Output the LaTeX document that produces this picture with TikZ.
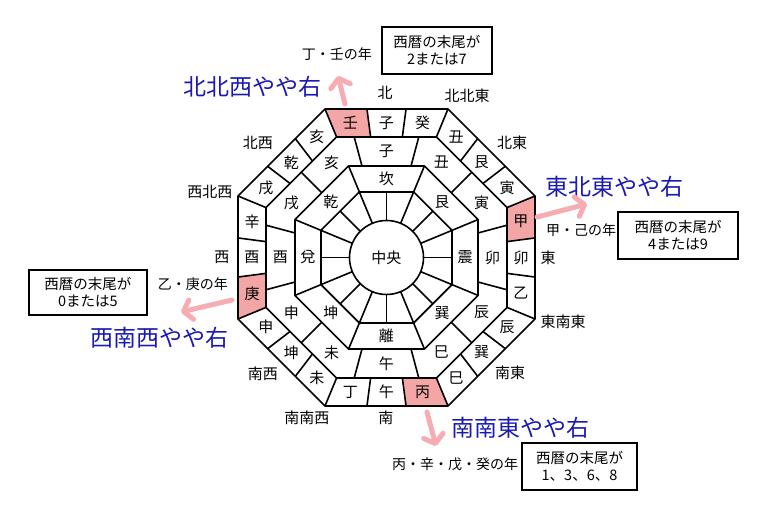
\documentclass[tikz,border=0pt]{standalone}
\usepackage{fontspec}
\setmainfont{Noto Sans CJK JP}
\usetikzlibrary{arrows.meta}
\definecolor{cellpink}{RGB}{244,166,166}
\definecolor{arrowpink}{RGB}{246,172,178}
\definecolor{dirblue}{RGB}{26,26,178}
\newcommand*{\celltext}{\fontsize{15}{17}\selectfont}
\newcommand*{\yeartext}{\fontsize{14}{16}\selectfont}
\newcommand*{\bluetext}{\fontsize{23}{25}\selectfont\color{dirblue}}
\tikzset{
  declare function={octr(\a,\t)=\a/cos(mod(\t+382.5,45)-22.5);},
  grid/.style = {line width=1.6pt, line join=round},
  cell/.style = {font=\celltext, inner sep=0pt},
  year/.style = {font=\yeartext, inner sep=0pt},
  hint/.style = {font=\bluetext, inner sep=0pt},
  yearbox/.style = {draw, line width=2.8pt, fill=white, align=center,
    font=\fontsize{14.5}{17}\selectfont, inner sep=0pt},
  pinkarrow/.style = {arrowpink, line width=5pt, line cap=round,
    -{Straight Barb[length=8pt,width=20pt,line cap=round,line join=round]}}
}
\newcommand{\octagon}[1]{%
% apothem
  \pgfmathsetmacro{\rv}{#1/cos(22.5)}
  \draw[grid] (22.5:\rv) -- (67.5:\rv) -- (112.5:\rv) -- (157.5:\rv)
    -- (202.5:\rv) -- (247.5:\rv) -- (292.5:\rv) -- (337.5:\rv) -- cycle;
}
\newcommand{\spokes}[4]{%
% inner apothem, outer apothem, first angle, second angle
  \foreach \t in {#3,#4,...,359}
    \draw[grid] (\t:{octr(#1,\t)}) -- (\t:{octr(#2,\t)});
}
\newcommand{\hcell}[2]{%
% start angle, end angle (outer ring)
  \fill[cellpink] (#1:{octr(148.5,#1)}) -- (#2:{octr(148.5,#2)})
    -- (#2:{octr(120.5,#2)}) -- (#1:{octr(120.5,#1)}) -- cycle;
}

\begin{document}
\begin{tikzpicture}[x=1pt, y=1pt]
  \useasboundingbox (-386.5,-252.5) rectangle (376.5,257.5);
  % highlighted cells
  \hcell{112.5}{97.5}
  \hcell{22.5}{7.5}
  \hcell{187.5}{202.5}
  \hcell{277.5}{292.5}
  % rings
  \octagon{148.5}
  \octagon{120.5}
  \octagon{91.5}
  \octagon{65.5}
  \spokes{120.5}{148.5}{7.5}{22.5}
  \spokes{91.5}{120.5}{15}{45}
  \spokes{65.5}{91.5}{22.5}{67.5}
  \foreach \t in {0,22.5,...,359}
    \draw[grid] (\t:37) -- (\t:{octr(65.5,\t)});
  \node[draw, circle, grid, minimum size=74pt, inner sep=0pt, font=\celltext]
    (centre) at (0,0) {中央};
  % labels
  \foreach \t/\lab [count=\i] in {105/壬, 90/子, 75/癸, 60/丑, 45/艮, 30/寅,
      15/甲, 0/卯, -15/乙, -30/辰, -45/巽, -60/巳, -75/丙, -90/午, -105/丁,
      -120/未, -135/坤, -150/申, -165/庚, 180/酉, 165/辛, 150/戌, 135/乾, 120/亥}
    \node[cell] (outer\i) at (\t:{octr(134.5,\t)}) {\lab};
  \foreach \t/\lab [count=\i] in {90/子, 60/丑, 30/寅, 0/卯, -30/辰, -60/巳,
      -90/午, -120/未, -150/申, 180/酉, 150/戌, 120/亥}
    \node[cell] (mid\i) at (\t:{octr(106,\t)}) {\lab};
  \foreach \t/\lab [count=\i] in {90/坎, 45/艮, 0/震, -45/巽, -90/離,
      -135/坤, 180/兌, 135/乾}
    \node[cell] (inner\i) at (\t:{octr(78.5,\t)}) {\lab};
  % compass points
  \foreach \p/\lab [count=\i] in {{(-1.5,164.5)}/北, {(80.5,161.5)}/北北東,
      {(125.5,114.5)}/北東, {(161.5,-0.5)}/東, {(176.5,-64.5)}/東南東,
      {(123.5,-115.5)}/南東, {(-0.5,-160.5)}/南, {(-79.5,-160.5)}/南南西,
      {(-123.5,-116.5)}/南西, {(-164.5,0.5)}/西, {(-176.5,65.5)}/西北西,
      {(-128.5,114.5)}/北西}
    \node[cell] (dir\i) at \p {\lab};
  % directions to face
  \node[hint] (hintN) at (-133.5,170.5) {北北西やや右};
  \node[hint] (hintE) at (227.5,70.5) {東北東やや右};
  \node[hint] (hintW) at (-226.5,-80.5) {西南西やや右};
  \node[hint] (hintS) at (133.5,-170.5) {南南東やや右};
  \node[year] (yearN) at (-49.5,203.5) {丁・壬の年};
  \node[year] (yearE) at (194.5,27.5) {甲・己の年};
  \node[year] (yearW) at (-193.5,-26.5) {乙・庚の年};
  \node[year] (yearS) at (68.5,-206.5) {丙・辛・戊・癸の年};
  \node[yearbox, minimum width=110pt, minimum height=47pt] (boxN) at (50.5,207)
    {西暦の末尾が\\2または7};
  \node[yearbox, minimum width=120pt, minimum height=47pt] (boxE) at (291.5,22)
    {西暦の末尾が\\4または9};
  \node[yearbox, minimum width=118pt, minimum height=45pt] (boxW) at (-298.5,-35)
    {西暦の末尾が\\0または5};
  \node[yearbox, minimum width=115pt, minimum height=47pt] (boxS) at (193,-209)
    {西暦の末尾が\\1、3、6、8};
  % arrows
  \coordinate (fromN) at (-41.5,153.5);
  \coordinate (toN) at (-48.5,181.5);
  \coordinate (fromE) at (150.5,40.5);
  \coordinate (toE) at (200.5,53.5);
  \coordinate (fromW) at (-154.5,-42.5);
  \coordinate (toW) at (-205.5,-54.5);
  \coordinate (fromS) at (40.5,-154.5);
  \coordinate (toS) at (49.5,-188.5);
  \draw[pinkarrow] (fromN) -- (toN);
  \draw[pinkarrow] (fromE) -- (toE);
  \draw[pinkarrow] (fromW) -- (toW);
  \draw[pinkarrow] (fromS) -- (toS);
\end{tikzpicture}
\end{document}
